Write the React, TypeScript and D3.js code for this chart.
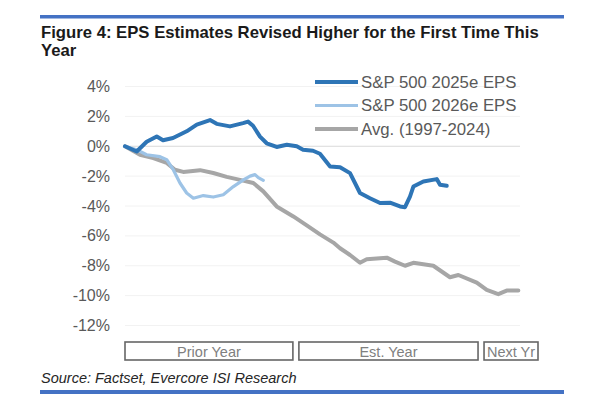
import * as d3 from 'd3';

// months since start of the prior year, EPS revision in %
const eps2025: [number, number][] = [
  [0, 0], [0.82, -0.35], [1.52, 0.3], [2.23, 0.65], [2.67, 0.4], [3.37, 0.55],
  [4.33, 1.0], [5.04, 1.45], [5.97, 1.75], [6.44, 1.5], [7.37, 1.33], [8.29, 1.55],
  [8.64, 1.65], [8.99, 1.37], [9.48, 0.65], [9.95, 0.2], [10.65, -0.05], [11.36, 0.1],
  [12.06, 0], [12.5, -0.23], [13.2, -0.3], [13.69, -0.5], [14.4, -1.35], [15.1, -1.4],
  [15.8, -1.8], [16.5, -3.13], [17.2, -3.48], [17.91, -3.8], [18.61, -3.78],
  [19.31, -4.03], [19.66, -4.08], [20.01, -3.37], [20.25, -2.7], [20.95, -2.36],
  [21.89, -2.2], [22.12, -2.58], [22.59, -2.65],
];

const eps2026: [number, number][] = [
  [0, 0], [0.82, -0.23], [1.52, -0.57], [2.46, -0.7], [2.93, -0.9], [3.39, -1.57],
  [3.86, -2.46], [4.33, -3.13], [4.8, -3.48], [5.5, -3.3], [6.2, -3.4], [6.9, -3.25],
  [7.61, -2.7], [8.31, -2.25], [8.78, -2.0], [9.13, -1.9], [9.36, -2.1], [9.71, -2.28],
];

const avg9724: [number, number][] = [
  [0, 0], [1.05, -0.57], [1.99, -0.79], [2.93, -1.12], [3.51, -1.57], [4.09, -1.72],
  [5.27, -1.6], [6.2, -1.79], [7.14, -2.05], [8.08, -2.25], [9.01, -2.46], [9.71, -3.02],
  [10.65, -4.03], [11.82, -4.7], [12.76, -5.3], [13.69, -5.9], [14.63, -6.45],
  [15.1, -6.83], [15.8, -7.28], [16.5, -7.8], [16.97, -7.57], [18.38, -7.46],
  [18.96, -7.72], [19.66, -8.0], [20.25, -7.8], [21.65, -8.0], [22.82, -8.77],
  [23.41, -8.62], [24.7, -9.13], [25.4, -9.62], [26.21, -9.9], [26.8, -9.66], [27.62, -9.66],
];

const yTicks = [4, 2, 0, -2, -4, -6, -8, -10, -12];

const periods = [
  { label: 'Prior Year', start: 0, end: 12 },
  { label: 'Est. Year', start: 12, end: 25 },
  { label: 'Next Yr', start: 25, end: 29 },
];

const seriesNames = ['S&P 500 2025e EPS', 'S&P 500 2026e EPS', 'Avg. (1997-2024)'];

const App = () => {
  const width = 602;
  const height = 410;

  const x = d3.scaleLinear().domain([0, 29]).range([125, 538]);
  const y = d3.scaleLinear().domain([4, -12]).range([86.5, 325.5]);

  const line = d3
    .line<[number, number]>()
    .x((d) => x(d[0]))
    .y((d) => y(d[1]));

  const series = [
    { name: seriesNames[0], data: eps2025, color: '#2E75B6', w: 4 },
    { name: seriesNames[1], data: eps2026, color: '#9DC3E6', w: 3.2 },
    { name: seriesNames[2], data: avg9724, color: '#A6A6A6', w: 4 },
  ];
  // draw order: grey at the back
  const drawOrder = [series[2], series[1], series[0]];

  const font = 'Arial, "Liberation Sans", Helvetica, sans-serif';

  return (
    <div style={{ position: 'absolute', left: 0, top: 0 }}>
      <svg width={width} height={height} style={{ display: 'block', background: '#fff' }} fontFamily={font}>
        <rect x={40} y={15} width={524} height={3.5} fill='#4472C4' />
        <text x={41} y={38} fontSize={16.7} fontWeight='bold' fill='#1a1a1a'>
          Figure 4: EPS Estimates Revised Higher for the First Time This
        </text>
        <text x={41} y={56} fontSize={16.7} fontWeight='bold' fill='#1a1a1a'>
          Year
        </text>

        {yTicks.map((t) => (
          <g key={t}>
            <line
              x1={x(0)}
              x2={520}
              y1={y(t)}
              y2={y(t)}
              stroke={t === 0 ? '#d9d9d9' : '#f2f2f2'}
              strokeWidth={1}
            />
            <text
              x={110}
              y={y(t)}
              textAnchor='end'
              dominantBaseline='central'
              fontSize={16}
              fill='#595959'
            >
              {`${t}%`}
            </text>
          </g>
        ))}

        {drawOrder.map((s) => (
          <path
            key={s.name}
            d={line(s.data) ?? ''}
            fill='none'
            stroke={s.color}
            strokeWidth={s.w}
            strokeLinejoin='round'
            strokeLinecap='round'
          />
        ))}

        {series.map((s, i) => (
          <g key={s.name} transform={`translate(315, ${82 + i * 23.5})`}>
            <line x1={0} x2={43} y1={0} y2={0} stroke={s.color} strokeWidth={s.w} />
            <text x={46} y={0} dominantBaseline='central' fontSize={16.8} fill='#595959'>
              {s.name}
            </text>
          </g>
        ))}

        {periods.map((p) => {
          const x0 = x(p.start) + (p.start === 0 ? 0 : 3);
          const x1 = x(p.end) - (p.end === 29 ? 0 : 3);
          return (
            <g key={p.label}>
              <rect
                x={x0}
                y={342}
                width={x1 - x0}
                height={18}
                fill='#fff'
                stroke='#666'
                strokeWidth={1.6}
              />
              <text
                x={(x0 + x1) / 2}
                y={351.5}
                textAnchor='middle'
                dominantBaseline='central'
                fontSize={14.5}
                fill='#808080'
              >
                {p.label}
              </text>
            </g>
          );
        })}

        <text x={41} y={383} fontSize={14.5} fontStyle='italic' fill='#262626'>
          Source: Factset, Evercore ISI Research
        </text>
        <rect x={40} y={390} width={524} height={4} fill='#4472C4' />
      </svg>
    </div>
  );
};

export default App;
